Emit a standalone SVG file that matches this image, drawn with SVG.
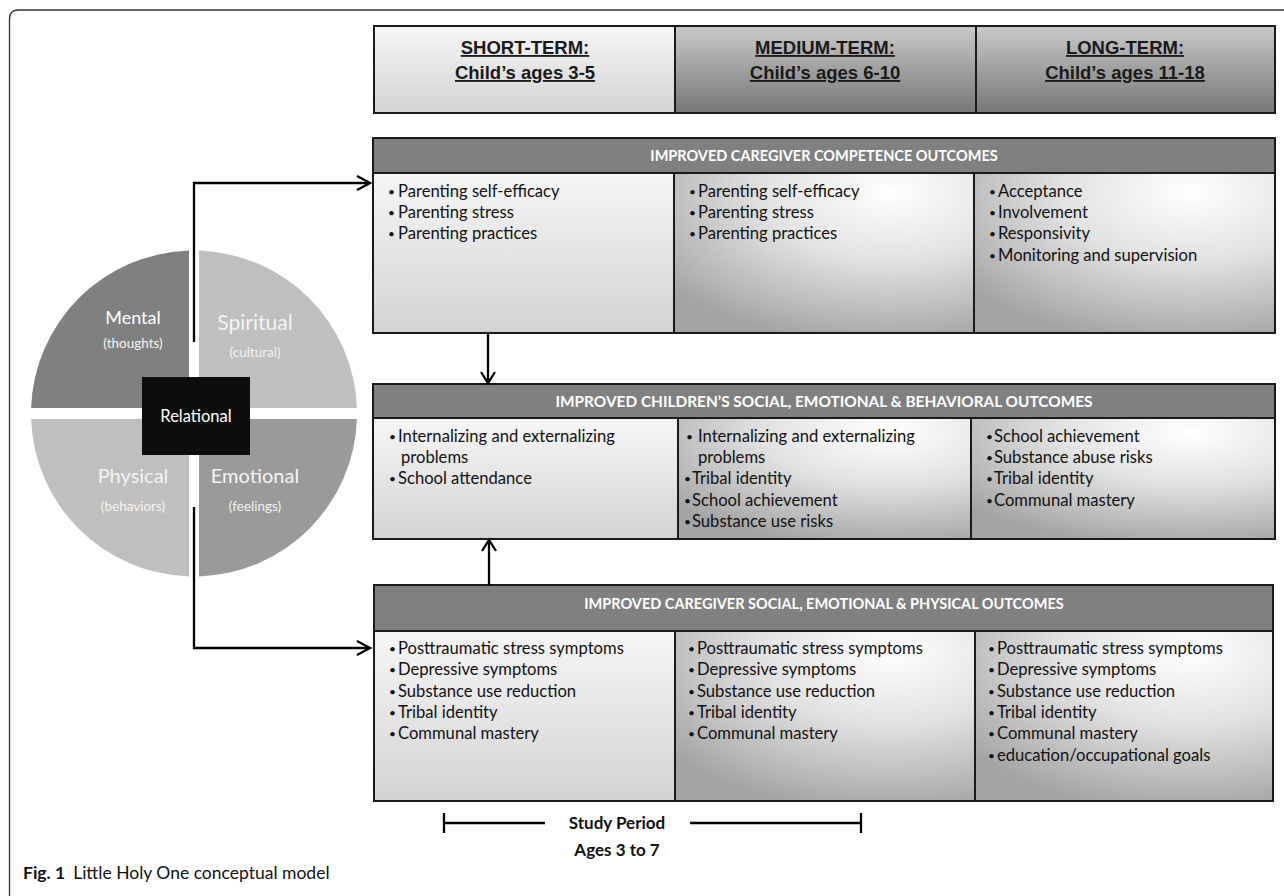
<svg xmlns="http://www.w3.org/2000/svg" width="1284" height="896" viewBox="0 0 1284 896">
<defs>
<linearGradient id="gLight" x1="0" y1="0" x2="0" y2="1"><stop offset="0" stop-color="#f6f6f6"/><stop offset="1" stop-color="#d3d3d3"/></linearGradient>
<linearGradient id="gDark" x1="0" y1="0" x2="0" y2="1"><stop offset="0" stop-color="#c9c9c9"/><stop offset="1" stop-color="#777777"/></linearGradient>
<radialGradient id="gRad" cx="0.72" cy="0.12" r="0.95"><stop offset="0" stop-color="#ffffff"/><stop offset="0.45" stop-color="#e2e2e2"/><stop offset="1" stop-color="#a4a4a4"/></radialGradient>
</defs>
<style>
.frame{fill:none;stroke:#333;stroke-width:1.3}
.box{stroke:#1a1a1a;stroke-width:2}
.bar{fill:#808080;stroke:#1a1a1a;stroke-width:2}
.hd{font-family:"Liberation Sans",Arial,sans-serif;font-weight:bold;font-size:18.5px;fill:#1a1a1a;text-anchor:middle;text-decoration:underline}
.ttl{font-family:Lato,"Open Sans",sans-serif;font-weight:bold;font-size:14.5px;fill:#fff;text-anchor:middle}
.li{font-family:Lato,"Open Sans",sans-serif;font-size:16.6px;fill:#111}
.b{font-size:12px}
.wl{font-family:Lato,"Open Sans",sans-serif;text-anchor:middle}
.con{fill:none;stroke:#000;stroke-width:2.3}
.sp{font-family:Lato,"Open Sans",sans-serif;font-weight:bold;font-size:17px;fill:#111;text-anchor:middle}
</style>
<path class="frame" d="M1284 10 H18.5 Q9.5 10 9.5 19 V896"/>

<g id="timeframes">
<rect x="374" y="26" width="301" height="87" fill="url(#gLight)" class="box"/>
<rect x="675" y="26" width="301" height="87" fill="url(#gDark)" class="box"/>
<rect x="976" y="26" width="299" height="87" fill="url(#gDark)" class="box"/>
<text class="hd" x="525" y="54">SHORT-TERM:</text>
<text class="hd" x="525" y="79">Child’s ages 3-5</text>
<text class="hd" x="825" y="54">MEDIUM-TERM:</text>
<text class="hd" x="825" y="79">Child’s ages 6-10</text>
<text class="hd" x="1125" y="54">LONG-TERM:</text>
<text class="hd" x="1125" y="79">Child’s ages 11-18</text>
</g>

<g id="caregiver-competence">
<rect x="373" y="173" width="301" height="160" fill="url(#gLight)" class="box"/>
<rect x="674" y="173" width="300" height="160" fill="url(#gRad)" class="box"/>
<rect x="974" y="173" width="301" height="160" fill="url(#gRad)" class="box"/>
<rect x="373" y="138" width="902" height="35" class="bar"/>
<text class="ttl" x="824" y="161">IMPROVED CAREGIVER COMPETENCE OUTCOMES</text>
<text class="li"><tspan class="b" x="388" y="196">•</tspan><tspan x="398" y="197">Parenting self-efficacy</tspan><tspan class="b" x="388" y="217">•</tspan><tspan x="398" y="218">Parenting stress</tspan><tspan class="b" x="388" y="238">•</tspan><tspan x="398" y="239">Parenting practices</tspan></text>
<text class="li"><tspan class="b" x="689" y="196">•</tspan><tspan x="698" y="197">Parenting self-efficacy</tspan><tspan class="b" x="689" y="217">•</tspan><tspan x="698" y="218">Parenting stress</tspan><tspan class="b" x="689" y="238">•</tspan><tspan x="698" y="239">Parenting practices</tspan></text>
<text class="li"><tspan class="b" x="989" y="196">•</tspan><tspan x="998" y="197">Acceptance</tspan><tspan class="b" x="989" y="217">•</tspan><tspan x="998" y="218">Involvement</tspan><tspan class="b" x="989" y="238">•</tspan><tspan x="998" y="239">Responsivity</tspan><tspan class="b" x="989" y="260">•</tspan><tspan x="998" y="261">Monitoring and supervision</tspan></text>
</g>

<g id="children-outcomes">
<rect x="373" y="418" width="305" height="121" fill="url(#gLight)" class="box"/>
<rect x="678" y="418" width="293" height="121" fill="url(#gRad)" class="box"/>
<rect x="971" y="418" width="304" height="121" fill="url(#gRad)" class="box"/>
<rect x="373" y="384" width="902" height="34" class="bar"/>
<text class="ttl" x="824" y="407" style="font-size:15.4px">IMPROVED CHILDREN’S SOCIAL, EMOTIONAL &amp; BEHAVIORAL OUTCOMES</text>
<text class="li"><tspan class="b" x="389" y="441">•</tspan><tspan x="398" y="442">Internalizing and externalizing</tspan><tspan x="401" y="463">problems</tspan><tspan class="b" x="389" y="483">•</tspan><tspan x="398" y="484">School attendance</tspan></text>
<text class="li"><tspan class="b" x="686" y="441">•</tspan><tspan x="698" y="442">Internalizing and externalizing</tspan><tspan x="698" y="463">problems</tspan><tspan class="b" x="684" y="483">•</tspan><tspan x="692" y="484">Tribal identity</tspan><tspan class="b" x="684" y="505">•</tspan><tspan x="692" y="506">School achievement</tspan><tspan class="b" x="684" y="526">•</tspan><tspan x="692" y="527">Substance use risks</tspan></text>
<text class="li"><tspan class="b" x="986" y="441">•</tspan><tspan x="994" y="442">School achievement</tspan><tspan class="b" x="986" y="462">•</tspan><tspan x="994" y="463">Substance abuse risks</tspan><tspan class="b" x="986" y="483">•</tspan><tspan x="994" y="484">Tribal identity</tspan><tspan class="b" x="986" y="505">•</tspan><tspan x="994" y="506">Communal mastery</tspan></text>
</g>

<g id="caregiver-wellbeing">
<rect x="374" y="631" width="301" height="170" fill="url(#gLight)" class="box"/>
<rect x="675" y="631" width="300" height="170" fill="url(#gRad)" class="box"/>
<rect x="975" y="631" width="298" height="170" fill="url(#gRad)" class="box"/>
<rect x="374" y="585" width="899" height="46" class="bar"/>
<text class="ttl" x="824" y="609">IMPROVED CAREGIVER SOCIAL, EMOTIONAL &amp; PHYSICAL OUTCOMES</text>
<text class="li"><tspan class="b" x="389" y="653">•</tspan><tspan x="398" y="654">Posttraumatic stress symptoms</tspan><tspan class="b" x="389" y="674">•</tspan><tspan x="398" y="675">Depressive symptoms</tspan><tspan class="b" x="389" y="696">•</tspan><tspan x="398" y="697">Substance use reduction</tspan><tspan class="b" x="389" y="717">•</tspan><tspan x="398" y="718">Tribal identity</tspan><tspan class="b" x="389" y="738">•</tspan><tspan x="398" y="739">Communal mastery</tspan></text>
<text class="li"><tspan class="b" x="688" y="653">•</tspan><tspan x="697" y="654">Posttraumatic stress symptoms</tspan><tspan class="b" x="688" y="674">•</tspan><tspan x="697" y="675">Depressive symptoms</tspan><tspan class="b" x="688" y="696">•</tspan><tspan x="697" y="697">Substance use reduction</tspan><tspan class="b" x="688" y="717">•</tspan><tspan x="697" y="718">Tribal identity</tspan><tspan class="b" x="688" y="738">•</tspan><tspan x="697" y="739">Communal mastery</tspan></text>
<text class="li"><tspan class="b" x="988" y="653">•</tspan><tspan x="997" y="654">Posttraumatic stress symptoms</tspan><tspan class="b" x="988" y="674">•</tspan><tspan x="997" y="675">Depressive symptoms</tspan><tspan class="b" x="988" y="696">•</tspan><tspan x="997" y="697">Substance use reduction</tspan><tspan class="b" x="988" y="717">•</tspan><tspan x="997" y="718">Tribal identity</tspan><tspan class="b" x="988" y="738">•</tspan><tspan x="997" y="739">Communal mastery</tspan><tspan class="b" x="988" y="760">•</tspan><tspan x="997" y="761">education/occupational goals</tspan></text>
</g>

<g id="wellness-wheel">
<path id="mental" d="M189 408 H31.1 A163 163 0 0 1 189 250.6 Z" fill="#808080"/>
<path id="spiritual" d="M199 408 V250.6 A163 163 0 0 1 356.9 408 Z" fill="#bfbfbf"/>
<path id="physical" d="M189 419 V576.4 A163 163 0 0 1 31.1 419 Z" fill="#bfbfbf"/>
<path id="emotional" d="M199 419 H356.9 A163 163 0 0 1 199 576.4 Z" fill="#9a9a9a"/>
<text class="wl" x="133" y="324" font-size="18px" fill="#fff">Mental</text>
<text class="wl" x="133" y="348" font-size="13.5px" fill="#f4f4f4">(thoughts)</text>
<text class="wl" x="255" y="330" font-size="21px" fill="#f4f4f4">Spiritual</text>
<text class="wl" x="255" y="357" font-size="13.5px" fill="#f4f4f4">(cultural)</text>
<text class="wl" x="133" y="483" font-size="20px" fill="#f4f4f4">Physical</text>
<text class="wl" x="133" y="511" font-size="13.5px" fill="#f4f4f4">(behaviors)</text>
<text class="wl" x="255" y="483" font-size="20px" fill="#f4f4f4">Emotional</text>
<text class="wl" x="255" y="511" font-size="13.5px" fill="#f4f4f4">(feelings)</text>
<g id="relational">
<rect x="142" y="377" width="108" height="78" fill="#0d0d0d"/>
<text class="wl" x="196" y="422" font-size="16.5px" fill="#fff">Relational</text>
</g>
</g>

<g id="connectors">
<path class="con" d="M194 342 V183 H369"/>
<path class="con" d="M357 176 L370 183 L357 190"/>
<path class="con" stroke-width="3" d="M194 507 V648 H369"/>
<path class="con" d="M357 641 L370 648 L357 655"/>
<path class="con" d="M488 333 V382"/>
<path class="con" d="M481 372 L488 383 L495 372"/>
<path class="con" d="M489 585 V541"/>
<path class="con" d="M482 551 L489 540 L496 551"/>
</g>

<g id="study-period">
<path class="con" stroke-width="1.5" d="M444 813 V833 M444 823 H545 M690 823 H861 M861 813 V833"/>
<text class="sp" x="617" y="829">Study Period</text>
<text class="sp" x="617" y="856">Ages 3 to 7</text>
</g>

<text x="23" y="879" font-family="Lato,'Open Sans',sans-serif" font-size="17.5px" fill="#111"><tspan font-weight="bold">Fig. 1</tspan><tspan dx="8">Little Holy One conceptual model</tspan></text>
</svg>
